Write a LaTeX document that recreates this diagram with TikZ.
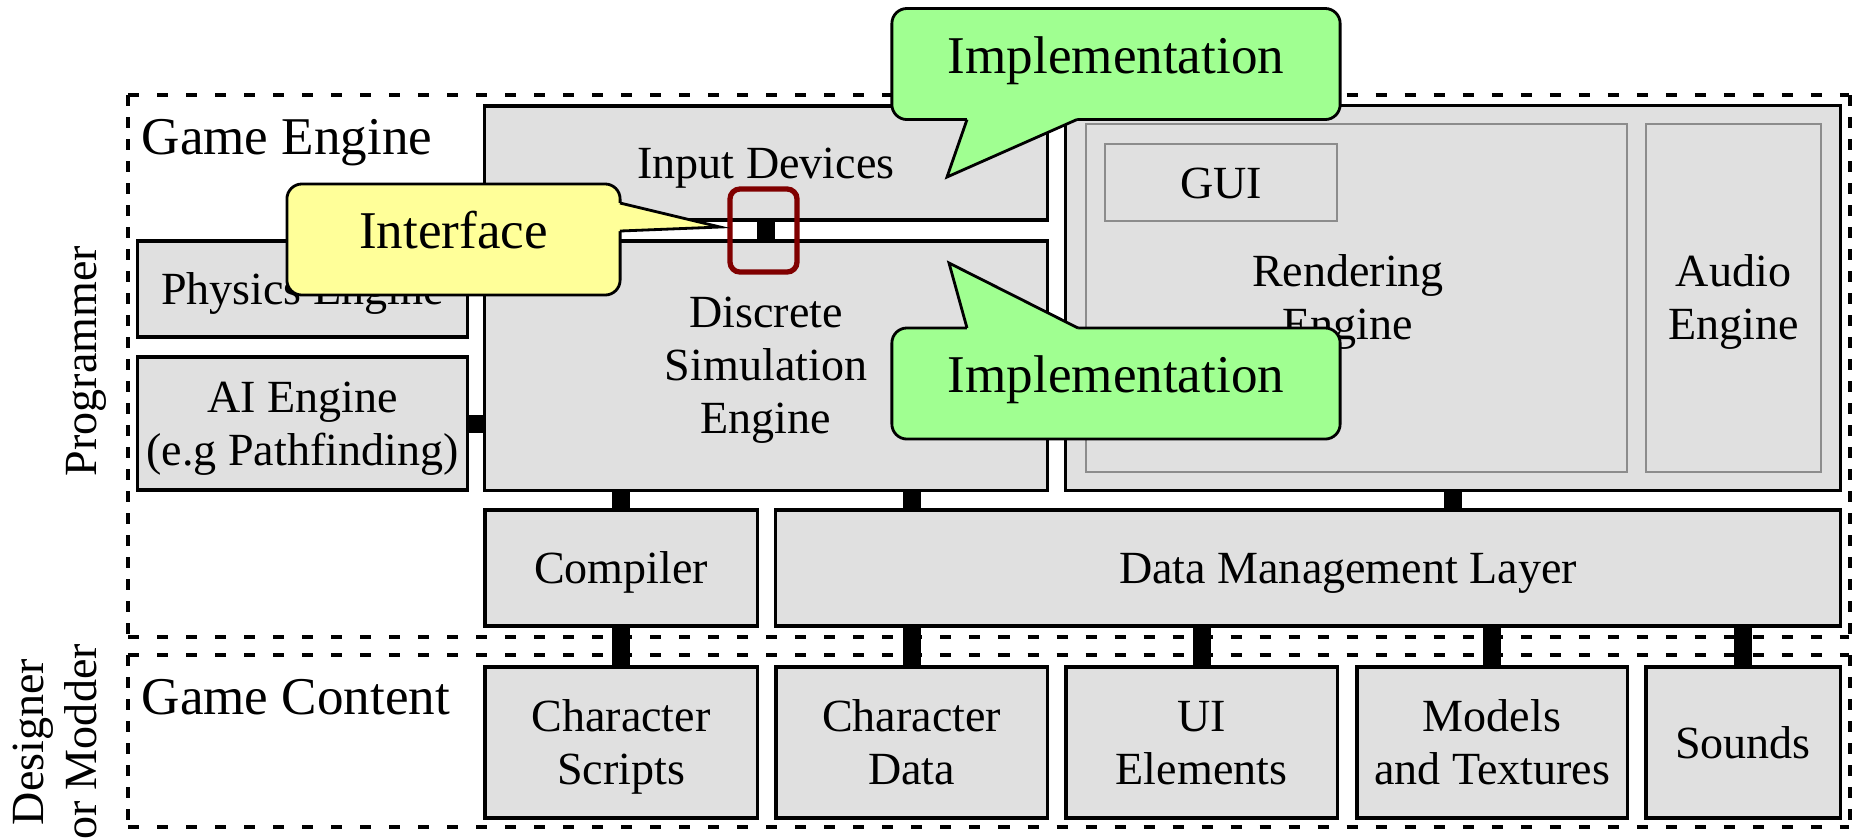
\documentclass[tikz,border=0pt]{standalone}
\usepackage{fontspec}
\setmainfont{Liberation Serif}
\definecolor{boxgray}{RGB}{224,224,224}
\definecolor{subgray}{RGB}{140,140,140}
\definecolor{callgreen}{RGB}{160,255,145}
\definecolor{callyellow}{RGB}{255,255,153}
\definecolor{hlred}{RGB}{128,0,0}
\newcommand{\mlines}[1]{\raisebox{-0.046cm}[\height][\depth]{\begin{tabular}{@{}c@{}}#1\end{tabular}}}
\begin{document}
\begin{tikzpicture}[x=0.01cm,y=-0.01cm,
  boxfont/.style={font=\fontsize{13.1pt}{15.1pt}\selectfont},
  bigfont/.style={font=\fontsize{15.1pt}{18pt}\selectfont},
  evenstrut/.style={execute at begin node={\rule{0pt}{0.414cm}}, execute at end node={\rule[-0.1cm]{0pt}{0.1cm}}},
  blk/.style={draw=black, line width=0.9pt, fill=boxgray, inner sep=0pt, boxfont, evenstrut},
  subbox/.style={draw=subgray, line width=0.45pt, fill=boxgray, inner sep=0pt, boxfont, evenstrut},
  conn/.style={line width=0.18cm, black},
  hdash/.style={line width=1pt, dash pattern=on 0.11cm off 0.18cm},
  vdash/.style={line width=1.1pt, dash pattern=on 0.11cm off 0.11cm},
  callbox/.style={draw=black, line width=0.8pt, rounded corners=0.15cm, inner sep=0pt, bigfont, text height=10.3pt, text depth=5.1pt},
  ptr/.style={draw=black, line width=0.8pt, line join=miter},
]
\fill[white] (0,0) rectangle (1852,838);
\useasboundingbox (0,0) rectangle (1852,838);

% dashed frames
\draw[hdash] (128,95) -- (1849,95);
\draw[hdash] (128,637) -- (1849,637);
\draw[vdash] (128,95) -- (128,637);
\draw[vdash, line width=1.4pt] (1850,95) -- (1850,637);
\draw[hdash] (128,655) -- (1849,655);
\draw[hdash] (128,827) -- (1849,827);
\draw[vdash] (128,655) -- (128,827);
\draw[vdash, line width=1.4pt] (1850,655) -- (1850,827);

% labels
\node[bigfont, anchor=base west, inner sep=0pt] (gelabel) at (141,154) {Game Engine};
\node[bigfont, anchor=base west, inner sep=0pt] (gclabel) at (141,714) {Game Content};
\node[boxfont, rotate=90, anchor=base, inner sep=0pt] (prog) at (96,361) {Programmer};
\node[boxfont, rotate=90, align=center, inner sep=0pt] (des) at (55,742) {Designer\\or Modder};

% engine boxes
\node[blk, minimum width=5.62cm, minimum height=1.14cm] (input) at (766,163) {Input Devices};
\node[blk, minimum width=5.62cm, minimum height=2.49cm] (dse) at (766,365.5) {\mlines{Discrete\\Simulation\\Engine}};
\node[blk, minimum width=3.29cm, minimum height=0.96cm] (phys) at (302.5,289) {Physics Engine};
\node[blk, minimum width=3.29cm, minimum height=1.33cm] (ai) at (302.5,423.5) {\mlines{AI Engine\\(e.g Pathfinding)}};
\node[blk, minimum width=7.74cm, minimum height=3.84cm] (rendcont) at (1453,298) {};
\node[subbox, minimum width=5.41cm, minimum height=3.48cm] (rend) at (1356.5,298) {\mlines{Rendering\\Engine}\hspace*{0.17cm}};
\node[subbox, minimum width=1.75cm, minimum height=3.48cm] (audio) at (1733.5,298) {\mlines{Audio\\Engine}};
\node[subbox, minimum width=2.32cm, minimum height=0.77cm] (gui) at (1221,182.5) {GUI};
\node[blk, minimum width=2.72cm, minimum height=1.16cm] (compiler) at (621,568) {Compiler};
\node[blk, minimum width=10.64cm, minimum height=1.16cm] (dml) at (1308,568) {\hspace*{0.8cm}Data Management Layer};

% content boxes
\node[blk, minimum width=2.72cm, minimum height=1.51cm] (cs) at (621,742.5) {\mlines{Character\\Scripts}};
\node[blk, minimum width=2.71cm, minimum height=1.51cm] (cd) at (911.5,742.5) {\mlines{Character\\Data}};
\node[blk, minimum width=2.71cm, minimum height=1.51cm] (ui) at (1201.5,742.5) {\mlines{UI\\Elements}};
\node[blk, minimum width=2.70cm, minimum height=1.51cm] (mt) at (1492,742.5) {\mlines{Models\\and Textures}};
\node[blk, minimum width=1.94cm, minimum height=1.51cm] (snd) at (1743,742.5) {Sounds};

% connectors
\draw[conn] (input.south) -- (dse.north);
\draw[conn] (ai.east) -- (ai.east -| dse.west);
\draw[conn] (compiler.north) -- (compiler.north |- dse.south);
\draw[conn] (cd.north |- dse.south) -- (cd.north |- dml.north);
\draw[conn] (rendcont.south) -- (rendcont.south |- dml.north);
\draw[conn] (cs.north) -- (compiler.south);
\draw[conn] (cd.north) -- (cd.north |- dml.south);
\draw[conn] (ui.north) -- (ui.north |- dml.south);
\draw[conn] (mt.north) -- (mt.north |- dml.south);
\draw[conn] (snd.north) -- (snd.north |- dml.south);

% highlight
\node[draw=hlred, line width=1.5pt, rounded corners=0.1cm, minimum width=0.67cm, minimum height=0.83cm, inner sep=0pt] (hl) at (763.5,230.5) {};

% callouts
\node[callbox, fill=callgreen, minimum width=4.48cm, minimum height=1.11cm] (impl1) at (1116,64) {Implementation};
\fill[callgreen] (967,113) -- (967,119.5) -- (947,177) -- (1077,119.5) -- (1077,113) -- cycle;
\draw[ptr] (967,119.5) -- (947,177) -- (1077,119.5);

\node[callbox, fill=callgreen, minimum width=4.48cm, minimum height=1.11cm] (impl2) at (1116,383.5) {Implementation};
\fill[callgreen] (967,334) -- (967,328) -- (949,263) -- (1078,328) -- (1078,334) -- cycle;
\draw[ptr] (967,328) -- (949,263) -- (1078,328);

\node[callbox, fill=callyellow, minimum width=3.33cm, minimum height=1.11cm] (iface) at (453.5,239.5) {Interface};
\fill[callyellow] (614,203) -- (620,203) -- (720,227) -- (620,231) -- (614,231) -- cycle;
\draw[ptr] (620,203) -- (720,227) -- (620,231);
\end{tikzpicture}
\end{document}
